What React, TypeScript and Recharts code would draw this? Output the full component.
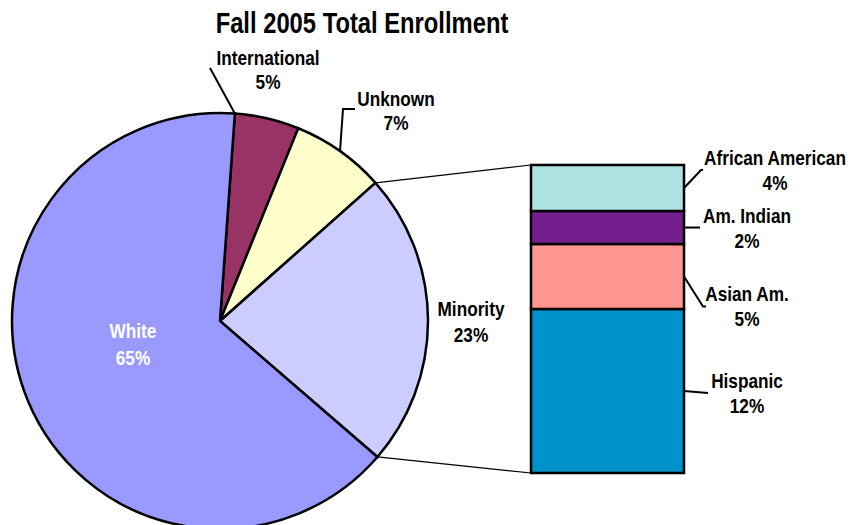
import React from 'react';
import { PieChart, Pie, Cell, BarChart, Bar, XAxis, YAxis, LabelList } from 'recharts';

// ---- data ----
const title = 'Fall 2005 Total Enrollment';

const pieNames = ['International', 'Unknown', 'Minority', 'White'];
const pieValues = [5.0, 7.3, 22.9, 64.8];
const pieLabels = ['5%', '7%', '23%', '65%'];

const barNames = ['Hispanic', 'Asian Am.', 'Am. Indian', 'African American'];
const barValues = [12.25, 4.85, 2.46, 3.44];
const barLabels = ['12%', '5%', '2%', '4%'];

// ---- styles / layout ----
const W = 851;
const H = 525;
const FONT = "'Liberation Sans', Arial, Helvetica, sans-serif";
const NARROW = 0.82;
const pieColors = ['#993366', '#FFFFCC', '#CCCCFF', '#9999FF'];
const barColors = ['#0092CA', '#FF9692', '#741E8E', '#AEE3E3'];

const PIE_CX = 220;
const PIE_CY = 321;
const PIE_R = 208;
const START_ANGLE = 85.9;

const BAR_MARGIN = { top: 165, right: 167, bottom: 52, left: 531 };

const pieTotal = pieValues.reduce((a, b) => a + b, 0);
const barTotal = barValues.reduce((a, b) => a + b, 0);

const pieData = pieNames.map((name, i) => ({ name, value: pieValues[i], pct: pieLabels[i] }));
const barRow: Record<string, any> = { cat: 'Minority' };
barNames.forEach((n, i) => {
  barRow[n] = barValues[i];
});
const barData = [barRow];

const RAD = Math.PI / 180;
const polar = (angle: number, r: number) => ({
  x: PIE_CX + r * Math.cos(-angle * RAD),
  y: PIE_CY + r * Math.sin(-angle * RAD),
});
const sliceAngles = (i: number) => {
  const before = pieValues.slice(0, i).reduce((a, b) => a + b, 0);
  const start = START_ANGLE - (360 * before) / pieTotal;
  const end = start - (360 * pieValues[i]) / pieTotal;
  return { start, end, mid: (start + end) / 2 };
};

// label placement offsets relative to pie centre
const pieLabelLayout: Record<string, any> = {
  International: { tx: 48, ty1: -256, ty2: -232, leader: 'start', pts: [[-10, -253]] },
  Unknown: { tx: 176, ty1: -215, ty2: -191, leader: 'mid', pts: [[123, -212], [135, -212]] },
  Minority: { tx: 251, ty1: -5, ty2: 21 },
  White: { tx: -87, ty1: 17, ty2: 44, color: '#FFFFFF' },
};

// bar label placement: elbow offset from segment right-middle, text centre offset from elbow
const barLabelLayout: Record<string, any> = {
  Hispanic: { ex: 24, ey: 2, tail: 0, tc: 39 },
  'Asian Am.': { ex: 19, ey: 30, tail: 3, tc: 44 },
  'Am. Indian': { ex: 16, ey: 0, tail: 0, tc: 47 },
  'African American': { ex: 17, ey: -18, tail: 2, tc: 74 },
};

const NText = ({ x, y, size = 21, fill = '#000', children }: any) => (
  <text
    transform={`translate(${x},${y}) scale(${NARROW},1)`}
    x={0}
    y={0}
    textAnchor="middle"
    fill={fill}
    style={{ fontFamily: FONT, fontWeight: 700, fontSize: size }}
  >
    {children}
  </text>
);

const renderPieLabel = (props: any) => {
  const { index } = props;
  const name = pieNames[index];
  const lay = pieLabelLayout[name];
  const ang = sliceAngles(index);
  const color = lay.color || '#000000';
  let leader: React.ReactNode = null;
  if (lay.leader) {
    const p0 = polar(lay.leader === 'start' ? ang.start : ang.mid, PIE_R);
    const pts = [[p0.x, p0.y], ...lay.pts.map((p: number[]) => [PIE_CX + p[0], PIE_CY + p[1]])];
    leader = (
      <polyline
        points={pts.map((p) => `${p[0]},${p[1]}`).join(' ')}
        fill="none"
        stroke="#000"
        strokeWidth={2}
      />
    );
  }
  let connectors: React.ReactNode = null;
  if (name === 'Minority') {
    const a = polar(ang.start, PIE_R);
    const b = polar(ang.end, PIE_R);
    const barLeft = BAR_MARGIN.left;
    const barTop = BAR_MARGIN.top;
    const barBottom = H - BAR_MARGIN.bottom;
    connectors = (
      <g>
        <line x1={a.x} y1={a.y} x2={barLeft} y2={barTop} stroke="#000" strokeWidth={1.2} />
        <line x1={b.x} y1={b.y} x2={barLeft} y2={barBottom} stroke="#000" strokeWidth={1.2} />
      </g>
    );
  }
  return (
    <g key={`pl-${index}`}>
      {connectors}
      {leader}
      <NText x={PIE_CX + lay.tx} y={PIE_CY + lay.ty1} fill={color}>
        {name}
      </NText>
      <NText x={PIE_CX + lay.tx} y={PIE_CY + lay.ty2} fill={color}>
        {pieLabels[index]}
      </NText>
    </g>
  );
};

const makeBarLabel = (i: number) => (props: any) => {
  const { x, y, width, height } = props;
  const name = barNames[i];
  const lay = barLabelLayout[name];
  const sx = Number(x) + Number(width);
  const sy = Number(y) + Number(height) / 2;
  const exx = sx + lay.ex;
  const eyy = sy + lay.ey;
  const pts = [[sx, sy], [exx, eyy], [exx + lay.tail, eyy]];
  const cx = exx + lay.tc;
  return (
    <g>
      <polyline
        points={pts.map((p) => `${p[0]},${p[1]}`).join(' ')}
        fill="none"
        stroke="#000"
        strokeWidth={2}
      />
      <NText x={cx} y={eyy - 5}>
        {name}
      </NText>
      <NText x={cx} y={eyy + 20}>
        {barLabels[i]}
      </NText>
    </g>
  );
};

export default function App() {
  return (
    <div style={{ position: 'absolute', left: 0, top: 0, width: W, height: H, background: '#fff' }}>
      <div style={{ position: 'absolute', left: 0, top: 0 }}>
        <PieChart width={W} height={H} margin={{ top: 0, right: 0, bottom: 0, left: 0 }}>
          <Pie
            data={pieData}
            dataKey="value"
            nameKey="name"
            cx={PIE_CX}
            cy={PIE_CY}
            outerRadius={PIE_R}
            startAngle={START_ANGLE}
            endAngle={START_ANGLE - 360}
            stroke="#000"
            strokeWidth={2.5}
            isAnimationActive={false}
            label={renderPieLabel}
            labelLine={false}
          >
            {pieData.map((d, i) => (
              <Cell key={d.name} fill={pieColors[i]} />
            ))}
          </Pie>
          <NText x={362} y={33} size={29}>
            {title}
          </NText>
        </PieChart>
      </div>
      <div style={{ position: 'absolute', left: 0, top: 0 }}>
        <BarChart width={W} height={H} data={barData} margin={BAR_MARGIN} barCategoryGap={0} barGap={0}>
          <XAxis dataKey="cat" hide />
          <YAxis hide domain={[0, barTotal]} />
          {barNames.map((n, i) => (
            <Bar
              key={n}
              dataKey={n}
              stackId="minority"
              fill={barColors[i]}
              stroke="#000"
              strokeWidth={2.5}
              isAnimationActive={false}
            >
              <LabelList dataKey={n} content={makeBarLabel(i)} />
            </Bar>
          ))}
        </BarChart>
      </div>
    </div>
  );
}
